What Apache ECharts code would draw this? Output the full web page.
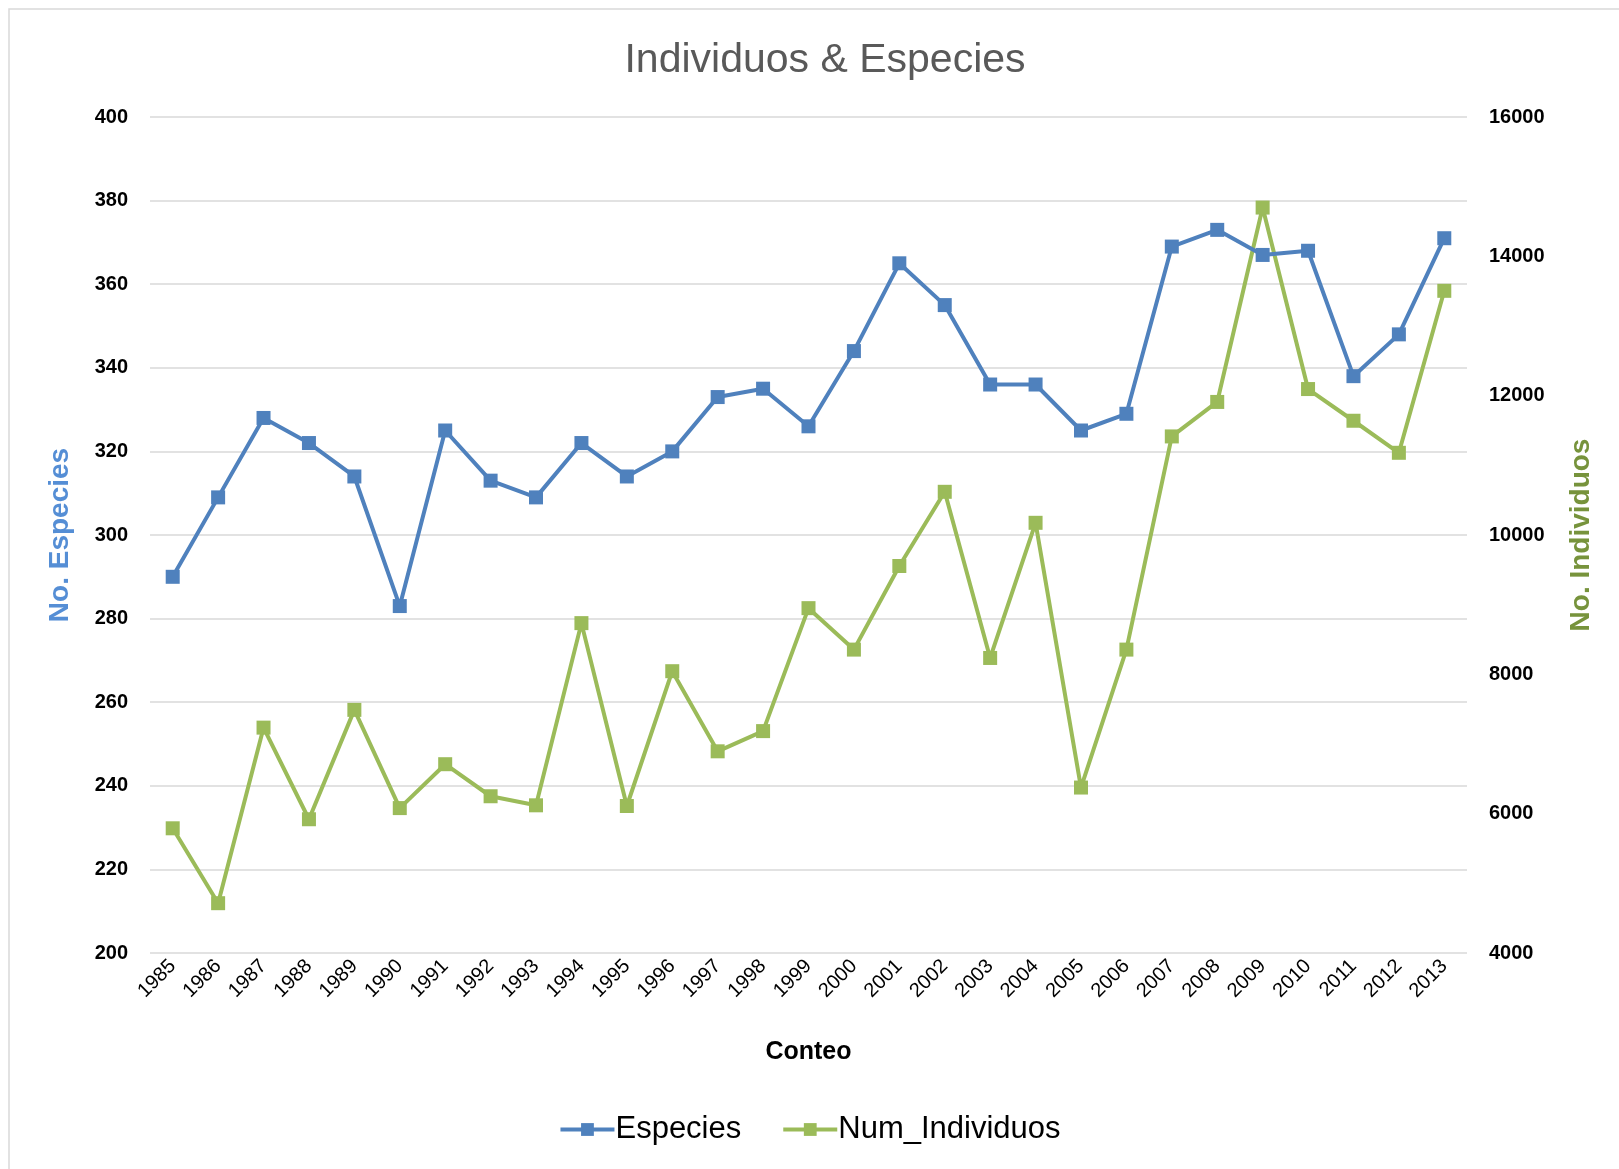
<!DOCTYPE html>
<html>
<head>
<meta charset="utf-8">
<script src="https://cdn.jsdelivr.net/npm/echarts@6/dist/echarts.min.js"></script>
<style>
  html, body { margin: 0; padding: 0; background: #fff; }
  #main { width: 1619px; height: 1169px; }
</style>
</head>
<body>
<div id="main"></div>
<script>
// datos
var years = ['1985', '1986', '1987', '1988', '1989', '1990', '1991', '1992', '1993', '1994',
  '1995', '1996', '1997', '1998', '1999', '2000', '2001', '2002', '2003', '2004',
  '2005', '2006', '2007', '2008', '2009', '2010', '2011', '2012', '2013'];
var especies = [290, 309, 328, 322, 314, 283, 325, 313, 309, 322,
  314, 320, 333, 335, 326, 344, 365, 355, 336, 336,
  325, 329, 369, 373, 367, 368, 338, 348, 371];
var individuos = [5790, 4715, 7235, 5920, 7490, 6080, 6710, 6250, 6120, 8735,
  6110, 8045, 6895, 7185, 8950, 8355, 9555, 10620, 8235, 10175,
  6375, 8355, 11415, 11910, 14700, 12095, 11640, 11180, 13505];

var azul = '#4f81bd';
var verde = '#9bbb59';
var fuente = '"Liberation Sans", Arial, sans-serif';

var myChart = echarts.init(document.getElementById('main'));

var option = {
  backgroundColor: '#fff',
  // marco del area del grafico
  graphic: [{
    type: 'rect',
    shape: { x: 9, y: 9, width: 1640, height: 1200 },
    style: { fill: 'none', stroke: '#d9d9d9', lineWidth: 1.5 },
    silent: true
  }],
  title: {
    text: 'Individuos & Especies',
    left: 820,
    textAlign: 'center',
    top: 35,
    textStyle: { fontFamily: fuente, fontSize: 41, fontWeight: 'normal', color: '#595959' }
  },
  legend: {
    data: ['Especies', 'Num_Individuos'],
    bottom: 19,
    left: 'center',
    itemWidth: 54,
    itemHeight: 16,
    itemGap: 40,
    lineStyle: { width: 4 },
    textStyle: { fontFamily: fuente, fontSize: 31, color: '#000', padding: [0, 0, 0, -4] }
  },
  grid: { left: 150, right: 152, top: 117, bottom: 216, containLabel: false },
  xAxis: {
    type: 'category',
    data: years,
    boundaryGap: true,
    name: 'Conteo',
    nameLocation: 'middle',
    nameGap: 87,
    nameTextStyle: { fontFamily: fuente, fontSize: 25, fontWeight: 'bold', color: '#000' },
    axisLine: { show: false },
    axisTick: { show: false },
    axisLabel: { rotate: 45, margin: 10, fontFamily: fuente, fontSize: 20, color: '#000', interval: 0 }
  },
  yAxis: [{
    type: 'value',
    min: 200,
    max: 400,
    interval: 20,
    position: 'left',
    name: 'No. Especies',
    nameLocation: 'middle',
    nameRotate: 90,
    nameGap: 76,
    nameTextStyle: { fontFamily: fuente, fontSize: 28, fontWeight: 'bold', color: '#558ed5' },
    axisLine: { show: false },
    axisTick: { show: false },
    axisLabel: { margin: 22, fontFamily: fuente, fontSize: 20, fontWeight: 'bold', color: '#000' },
    splitLine: { lineStyle: { color: '#d9d9d9', width: 1.5 } }
  }, {
    type: 'value',
    min: 4000,
    max: 16000,
    interval: 2000,
    position: 'right',
    name: 'No. Individuos',
    nameLocation: 'middle',
    nameRotate: 90,
    nameGap: 100,
    nameTextStyle: { fontFamily: fuente, fontSize: 28, fontWeight: 'bold', color: '#77933c' },
    axisLine: { show: false },
    axisTick: { show: false },
    axisLabel: {
      margin: 22, fontFamily: fuente, fontSize: 20, fontWeight: 'bold', color: '#000',
      formatter: function (v) { return String(v); }
    },
    splitLine: { show: false }
  }],
  series: [{
    name: 'Especies',
    type: 'line',
    yAxisIndex: 0,
    data: especies,
    symbol: 'rect',
    symbolSize: 14,
    showAllSymbol: true,
    itemStyle: { color: azul },
    lineStyle: { color: azul, width: 4 },
    z: 3
  }, {
    name: 'Num_Individuos',
    type: 'line',
    yAxisIndex: 1,
    data: individuos,
    symbol: 'rect',
    symbolSize: 14,
    showAllSymbol: true,
    itemStyle: { color: verde },
    lineStyle: { color: verde, width: 4 },
    z: 2
  }]
};

myChart.setOption(option);
</script>
</body>
</html>
